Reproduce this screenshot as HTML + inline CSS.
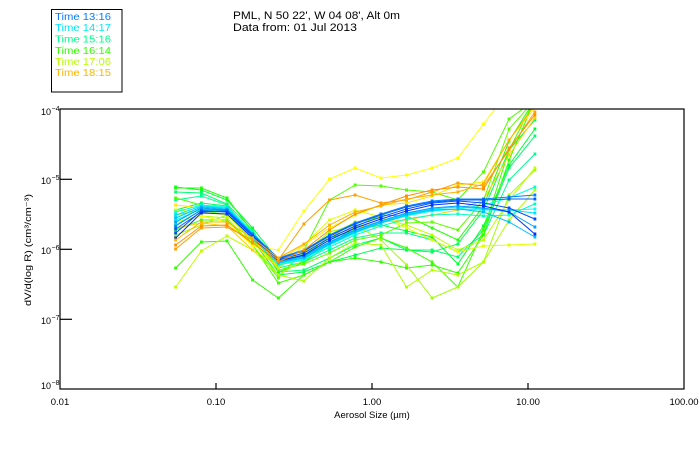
<!DOCTYPE html>
<html>
<head>
<meta charset="utf-8">
<style>
html,body{margin:0;padding:0;background:#fff;}
svg{display:block;}
text{font-family:"Liberation Sans","DejaVu Sans",sans-serif;fill:#000;}
</style>
</head>
<body>
<svg width="700" height="450" viewBox="0 0 700 450" xmlns="http://www.w3.org/2000/svg">
<rect x="0" y="0" width="700" height="450" fill="#fff"/>
<defs>
<clipPath id="pc"><rect x="60" y="109" width="624" height="280"/></clipPath>
<marker id="mb1" markerWidth="3" markerHeight="3" refX="1.5" refY="1.5" markerUnits="userSpaceOnUse"><rect width="3" height="3" fill="#0030ff"/></marker>
<marker id="mb2" markerWidth="3" markerHeight="3" refX="1.5" refY="1.5" markerUnits="userSpaceOnUse"><rect width="3" height="3" fill="#0050ff"/></marker>
<marker id="mb3" markerWidth="3" markerHeight="3" refX="1.5" refY="1.5" markerUnits="userSpaceOnUse"><rect width="3" height="3" fill="#0060ff"/></marker>
<marker id="mb4" markerWidth="3" markerHeight="3" refX="1.5" refY="1.5" markerUnits="userSpaceOnUse"><rect width="3" height="3" fill="#0080ff"/></marker>
<marker id="mc1" markerWidth="3" markerHeight="3" refX="1.5" refY="1.5" markerUnits="userSpaceOnUse"><rect width="3" height="3" fill="#00a0ff"/></marker>
<marker id="mc2" markerWidth="3" markerHeight="3" refX="1.5" refY="1.5" markerUnits="userSpaceOnUse"><rect width="3" height="3" fill="#00c0ff"/></marker>
<marker id="mc3" markerWidth="3" markerHeight="3" refX="1.5" refY="1.5" markerUnits="userSpaceOnUse"><rect width="3" height="3" fill="#00e0ff"/></marker>
<marker id="mc4" markerWidth="3" markerHeight="3" refX="1.5" refY="1.5" markerUnits="userSpaceOnUse"><rect width="3" height="3" fill="#00ffff"/></marker>
<marker id="mc5" markerWidth="3" markerHeight="3" refX="1.5" refY="1.5" markerUnits="userSpaceOnUse"><rect width="3" height="3" fill="#00ffe0"/></marker>
<marker id="mc6" markerWidth="3" markerHeight="3" refX="1.5" refY="1.5" markerUnits="userSpaceOnUse"><rect width="3" height="3" fill="#00ffc0"/></marker>
<marker id="mg1" markerWidth="3" markerHeight="3" refX="1.5" refY="1.5" markerUnits="userSpaceOnUse"><rect width="3" height="3" fill="#00ff90"/></marker>
<marker id="mg2" markerWidth="3" markerHeight="3" refX="1.5" refY="1.5" markerUnits="userSpaceOnUse"><rect width="3" height="3" fill="#00ff70"/></marker>
<marker id="mg3" markerWidth="3" markerHeight="3" refX="1.5" refY="1.5" markerUnits="userSpaceOnUse"><rect width="3" height="3" fill="#00ff50"/></marker>
<marker id="mg4" markerWidth="3" markerHeight="3" refX="1.5" refY="1.5" markerUnits="userSpaceOnUse"><rect width="3" height="3" fill="#00ff30"/></marker>
<marker id="mh1" markerWidth="3" markerHeight="3" refX="1.5" refY="1.5" markerUnits="userSpaceOnUse"><rect width="3" height="3" fill="#20ff00"/></marker>
<marker id="mh2" markerWidth="3" markerHeight="3" refX="1.5" refY="1.5" markerUnits="userSpaceOnUse"><rect width="3" height="3" fill="#30ff00"/></marker>
<marker id="mh3" markerWidth="3" markerHeight="3" refX="1.5" refY="1.5" markerUnits="userSpaceOnUse"><rect width="3" height="3" fill="#40ff00"/></marker>
<marker id="mh4" markerWidth="3" markerHeight="3" refX="1.5" refY="1.5" markerUnits="userSpaceOnUse"><rect width="3" height="3" fill="#50ff00"/></marker>
<marker id="mh5" markerWidth="3" markerHeight="3" refX="1.5" refY="1.5" markerUnits="userSpaceOnUse"><rect width="3" height="3" fill="#60ff00"/></marker>
<marker id="my1" markerWidth="3" markerHeight="3" refX="1.5" refY="1.5" markerUnits="userSpaceOnUse"><rect width="3" height="3" fill="#a0ff00"/></marker>
<marker id="my2" markerWidth="3" markerHeight="3" refX="1.5" refY="1.5" markerUnits="userSpaceOnUse"><rect width="3" height="3" fill="#c0ff00"/></marker>
<marker id="my3" markerWidth="3" markerHeight="3" refX="1.5" refY="1.5" markerUnits="userSpaceOnUse"><rect width="3" height="3" fill="#e0ff00"/></marker>
<marker id="my4" markerWidth="3" markerHeight="3" refX="1.5" refY="1.5" markerUnits="userSpaceOnUse"><rect width="3" height="3" fill="#b0ff00"/></marker>
<marker id="ml1" markerWidth="3" markerHeight="3" refX="1.5" refY="1.5" markerUnits="userSpaceOnUse"><rect width="3" height="3" fill="#ffff00"/></marker>
<marker id="ml2" markerWidth="3" markerHeight="3" refX="1.5" refY="1.5" markerUnits="userSpaceOnUse"><rect width="3" height="3" fill="#ffe800"/></marker>
<marker id="ml3" markerWidth="3" markerHeight="3" refX="1.5" refY="1.5" markerUnits="userSpaceOnUse"><rect width="3" height="3" fill="#ffd000"/></marker>
<marker id="mo1" markerWidth="3" markerHeight="3" refX="1.5" refY="1.5" markerUnits="userSpaceOnUse"><rect width="3" height="3" fill="#ffa000"/></marker>
<marker id="mo2" markerWidth="3" markerHeight="3" refX="1.5" refY="1.5" markerUnits="userSpaceOnUse"><rect width="3" height="3" fill="#ff9000"/></marker>
<marker id="mo3" markerWidth="3" markerHeight="3" refX="1.5" refY="1.5" markerUnits="userSpaceOnUse"><rect width="3" height="3" fill="#ffb000"/></marker>
</defs>

<!-- Legend -->
<rect x="51.5" y="9.5" width="70.5" height="82.5" fill="none" stroke="#000" stroke-width="1"/>
<text x="55" y="20" font-size="10" textLength="56" lengthAdjust="spacingAndGlyphs" style="fill:#0a7cff">Time 13:16</text>
<text x="55" y="31.2" font-size="10" textLength="56" lengthAdjust="spacingAndGlyphs" style="fill:#00e8ff">Time 14:17</text>
<text x="55" y="42.5" font-size="10" textLength="56" lengthAdjust="spacingAndGlyphs" style="fill:#00ff88">Time 15:16</text>
<text x="55" y="53.8" font-size="10" textLength="56" lengthAdjust="spacingAndGlyphs" style="fill:#30ff00">Time 16:14</text>
<text x="55" y="65" font-size="10" textLength="56" lengthAdjust="spacingAndGlyphs" style="fill:#b8ff00">Time 17:06</text>
<text x="55" y="76.2" font-size="10" textLength="56" lengthAdjust="spacingAndGlyphs" style="fill:#ffb400">Time 18:15</text>

<!-- Title -->
<text x="233" y="19" font-size="11" textLength="167" lengthAdjust="spacingAndGlyphs">PML, N 50 22', W 04 08', Alt 0m</text>
<text x="233" y="31" font-size="11" textLength="124" lengthAdjust="spacingAndGlyphs">Data from: 01 Jul 2013</text>

<!-- Data -->
<g clip-path="url(#pc)" fill="none" stroke-width="1">
<polyline stroke="#00ff90" marker-start="url(#mg1)" marker-mid="url(#mg1)" marker-end="url(#mg1)" points="175.7,200 201.3,196 227,205 252.6,235 278.3,268 303.9,262 329.6,250 355.2,238 380.9,233 406.5,233 432.2,240 457.8,252 483.5,235 509.1,180 534.8,154"/>
<polyline stroke="#00ff70" marker-start="url(#mg2)" marker-mid="url(#mg2)" marker-end="url(#mg2)" points="175.7,192 201.3,193 227,204 252.6,230 278.3,272 303.9,270 329.6,258 355.2,245 380.9,238 406.5,250 432.2,250 457.8,257 483.5,230 509.1,168 534.8,136"/>
<polyline stroke="#00ff50" marker-start="url(#mg3)" marker-mid="url(#mg3)" marker-end="url(#mg3)" points="175.7,210 201.3,203 227,206 252.6,240 278.3,275 303.9,272 329.6,262 355.2,255 380.9,248 406.5,250 432.2,252 457.8,244 483.5,210 509.1,150 534.8,120"/>
<polyline stroke="#00ff30" marker-start="url(#mg4)" marker-mid="url(#mg4)" marker-end="url(#mg4)" points="175.7,187 201.3,190 227,200 252.6,228 278.3,260 303.9,255 329.6,238 355.2,230 380.9,225 406.5,231 432.2,237 457.8,264 483.5,226 509.1,165 534.8,129"/>
<polyline stroke="#20ff00" marker-start="url(#mh1)" marker-mid="url(#mh1)" marker-end="url(#mh1)" points="175.7,188 201.3,188 227,198 252.6,232 278.3,272 303.9,262 329.6,244 355.2,227 380.9,215 406.5,216 432.2,228 457.8,240 483.5,206 509.1,141 534.8,100"/>
<polyline stroke="#30ff00" marker-start="url(#mh2)" marker-mid="url(#mh2)" marker-end="url(#mh2)" points="175.7,268 201.3,242 227,241 252.6,280 278.3,298 303.9,275 329.6,262 355.2,258 380.9,262 406.5,268 432.2,265 457.8,273 483.5,235 509.1,160 534.8,100"/>
<polyline stroke="#40ff00" marker-start="url(#mh3)" marker-mid="url(#mh3)" marker-end="url(#mh3)" points="175.7,230 201.3,220 227,220 252.6,245 278.3,283 303.9,275 329.6,262 355.2,247 380.9,238 406.5,248 432.2,262 457.8,287 483.5,230 509.1,150 534.8,100"/>
<polyline stroke="#50ff00" marker-start="url(#mh4)" marker-mid="url(#mh4)" marker-end="url(#mh4)" points="175.7,198 201.3,205 227,210 252.6,245 278.3,278 303.9,250 329.6,200 355.2,185 380.9,186 406.5,190 432.2,192 457.8,200 483.5,172 509.1,119 534.8,100"/>
<polyline stroke="#60ff00" marker-start="url(#mh5)" marker-mid="url(#mh5)" marker-end="url(#mh5)" points="175.7,215 201.3,210 227,215 252.6,240 278.3,270 303.9,264 329.6,253 355.2,240 380.9,235 406.5,223 432.2,222 457.8,230 483.5,200 509.1,129 534.8,100"/>
<polyline stroke="#a0ff00" marker-start="url(#my1)" marker-mid="url(#my1)" marker-end="url(#my1)" points="175.7,235 201.3,225 227,215 252.6,240 278.3,267 303.9,253 329.6,232 355.2,225 380.9,240 406.5,265 432.2,298 457.8,287 483.5,262 509.1,195 534.8,170"/>
<polyline stroke="#c0ff00" marker-start="url(#my2)" marker-mid="url(#my2)" marker-end="url(#my2)" points="175.7,287 201.3,251 227,236 252.6,250 278.3,275 303.9,260 329.6,235 355.2,222 380.9,218 406.5,225 432.2,235 457.8,250 483.5,240 509.1,200 534.8,168"/>
<polyline stroke="#e0ff00" marker-start="url(#my3)" marker-mid="url(#my3)" marker-end="url(#my3)" points="175.7,210 201.3,212 227,215 252.6,242 278.3,268 303.9,245 329.6,220 355.2,210 380.9,217 406.5,228 432.2,240 457.8,252 483.5,246 509.1,245 534.8,244"/>
<polyline stroke="#b0ff00" marker-start="url(#my4)" marker-mid="url(#my4)" marker-end="url(#my4)" points="175.7,222 201.3,216 227,218 252.6,245 278.3,275 303.9,281 329.6,258 355.2,243 380.9,245 406.5,287 432.2,270 457.8,275 483.5,262 509.1,220 534.8,190"/>
<polyline stroke="#ffff00" marker-start="url(#ml1)" marker-mid="url(#ml1)" marker-end="url(#ml1)" points="175.7,222 201.3,216 227,222 252.6,246 278.3,250 303.9,211 329.6,179 355.2,168 380.9,178 406.5,175 432.2,168 457.8,158 483.5,124 509.1,90 534.8,60"/>
<polyline stroke="#ffe800" marker-start="url(#ml2)" marker-mid="url(#ml2)" marker-end="url(#ml2)" points="175.7,205 201.3,208 227,212 252.6,236 278.3,260 303.9,245 329.6,228 355.2,215 380.9,205 406.5,203 432.2,196 457.8,185 483.5,182 509.1,140 534.8,108"/>
<polyline stroke="#ffd000" marker-start="url(#ml3)" marker-mid="url(#ml3)" marker-end="url(#ml3)" points="175.7,228 201.3,223 227,226 252.6,250 278.3,265 303.9,252 329.6,236 355.2,228 380.9,222 406.5,220 432.2,215 457.8,210 483.5,200 509.1,155 534.8,118"/>
<polyline stroke="#00ffc0" marker-start="url(#mc6)" marker-mid="url(#mc6)" marker-end="url(#mc6)" points="175.7,225 201.3,210 227,212 252.6,238 278.3,265 303.9,260 329.6,247 355.2,235 380.9,226 406.5,219 432.2,215 457.8,214 483.5,216 509.1,215 534.8,204"/>
<polyline stroke="#00ffe0" marker-start="url(#mc5)" marker-mid="url(#mc5)" marker-end="url(#mc5)" points="175.7,212 201.3,205 227,207 252.6,232 278.3,261 303.9,256 329.6,242 355.2,230 380.9,221 406.5,213 432.2,210 457.8,209 483.5,205 509.1,198 534.8,187"/>
<polyline stroke="#00ffff" marker-start="url(#mc4)" marker-mid="url(#mc4)" marker-end="url(#mc4)" points="175.7,220 201.3,209 227,211 252.6,237 278.3,264 303.9,259 329.6,245 355.2,233 380.9,223 406.5,216 432.2,211 457.8,209 483.5,210 509.1,210 534.8,209"/>
<polyline stroke="#00e0ff" marker-start="url(#mc3)" marker-mid="url(#mc3)" marker-end="url(#mc3)" points="175.7,215 201.3,206 227,208 252.6,233 278.3,262 303.9,257 329.6,243 355.2,231 380.9,222 406.5,214 432.2,209 457.8,207 483.5,209 509.1,210 534.8,213"/>
<polyline stroke="#00c0ff" marker-start="url(#mc2)" marker-mid="url(#mc2)" marker-end="url(#mc2)" points="175.7,218 201.3,207 227,209 252.6,234 278.3,263 303.9,258 329.6,244 355.2,232 380.9,223 406.5,215 432.2,210 457.8,209 483.5,212 509.1,222 534.8,237"/>
<polyline stroke="#00a0ff" marker-start="url(#mc1)" marker-mid="url(#mc1)" marker-end="url(#mc1)" points="175.7,222 201.3,208 227,210 252.6,236 278.3,262 303.9,256 329.6,242 355.2,230 380.9,221 406.5,213 432.2,208 457.8,206 483.5,208 509.1,212 534.8,227"/>
<polyline stroke="#0080ff" marker-start="url(#mb4)" marker-mid="url(#mb4)" marker-end="url(#mb4)" points="175.7,226 201.3,210 227,210 252.6,234 278.3,258 303.9,250 329.6,235 355.2,223 380.9,214 406.5,206 432.2,201 457.8,199 483.5,199 509.1,197 534.8,195"/>
<polyline stroke="#0060ff" marker-start="url(#mb3)" marker-mid="url(#mb3)" marker-end="url(#mb3)" points="175.7,229 201.3,212 227,211 252.6,235 278.3,259 303.9,251 329.6,236 355.2,224 380.9,215 406.5,207 432.2,202 457.8,200 483.5,200 509.1,199 534.8,199"/>
<polyline stroke="#0050ff" marker-start="url(#mb2)" marker-mid="url(#mb2)" marker-end="url(#mb2)" points="175.7,233 201.3,211 227,212 252.6,236 278.3,260 303.9,253 329.6,238 355.2,226 380.9,217 406.5,209 432.2,203 457.8,201 483.5,203 509.1,208 534.8,219"/>
<polyline stroke="#0030ff" marker-start="url(#mb1)" marker-mid="url(#mb1)" marker-end="url(#mb1)" points="175.7,238 201.3,213 227,214 252.6,238 278.3,261 303.9,255 329.6,240 355.2,228 380.9,219 406.5,211 432.2,205 457.8,203 483.5,206 509.1,212 534.8,234"/>
<polyline stroke="#ffa000" marker-start="url(#mo1)" marker-mid="url(#mo1)" marker-end="url(#mo1)" points="175.7,249 201.3,228 227,227 252.6,240 278.3,260 303.9,224 329.6,200 355.2,195 380.9,203 406.5,200 432.2,192 457.8,183 483.5,186 509.1,150 534.8,112"/>
<polyline stroke="#ff9000" marker-start="url(#mo2)" marker-mid="url(#mo2)" marker-end="url(#mo2)" points="175.7,245 201.3,226 227,225 252.6,243 278.3,262 303.9,250 329.6,230 355.2,214 380.9,205 406.5,196 432.2,190 457.8,187 483.5,189 509.1,148 534.8,115"/>
<polyline stroke="#ffb000" marker-start="url(#mo3)" marker-mid="url(#mo3)" marker-end="url(#mo3)" points="175.7,240 201.3,222 227,222 252.6,238 278.3,258 303.9,244 329.6,225 355.2,212 380.9,206 406.5,199 432.2,195 457.8,192 483.5,184 509.1,140 534.8,105"/>
</g>

<!-- Axes box -->
<rect x="60" y="109" width="624" height="280" fill="none" stroke="#000" stroke-width="1.2"/>
<!-- Left ticks -->
<line x1="60" y1="179.3" x2="72" y2="179.3" stroke="#000" stroke-width="1.2"/>
<line x1="60" y1="249.3" x2="72" y2="249.3" stroke="#000" stroke-width="1.2"/>
<line x1="60" y1="319.3" x2="72" y2="319.3" stroke="#000" stroke-width="1.2"/>
<!-- Bottom ticks -->
<line x1="216" y1="389" x2="216" y2="383" stroke="#000" stroke-width="1.2"/>
<line x1="372" y1="389" x2="372" y2="383" stroke="#000" stroke-width="1.2"/>
<line x1="528" y1="389" x2="528" y2="383" stroke="#000" stroke-width="1.2"/>

<!-- Y tick labels -->
<g font-size="9">
<text x="51" y="115" text-anchor="end">10</text><text x="51.5" y="111" font-size="7">−4</text>
<text x="51" y="184" text-anchor="end">10</text><text x="51.5" y="180" font-size="7">−5</text>
<text x="51" y="254" text-anchor="end">10</text><text x="51.5" y="250" font-size="7">−6</text>
<text x="51" y="324" text-anchor="end">10</text><text x="51.5" y="320" font-size="7">−7</text>
<text x="51" y="389" text-anchor="end">10</text><text x="51.5" y="385" font-size="7">−8</text>
</g>

<!-- X tick labels -->
<g font-size="9.5" text-anchor="middle">
<text x="60" y="405">0.01</text>
<text x="216" y="405">0.10</text>
<text x="372" y="405">1.00</text>
<text x="528" y="405">10.00</text>
<text x="684" y="405">100.00</text>
</g>
<text x="372" y="418" font-size="9.5" text-anchor="middle">Aerosol Size (µm)</text>

<!-- Y axis label -->
<text transform="translate(31,250) rotate(-90)" font-size="9.5" text-anchor="middle" textLength="112" lengthAdjust="spacingAndGlyphs">dV/d(log R) (cm³/cm⁻³)</text>
</svg>
</body>
</html>
